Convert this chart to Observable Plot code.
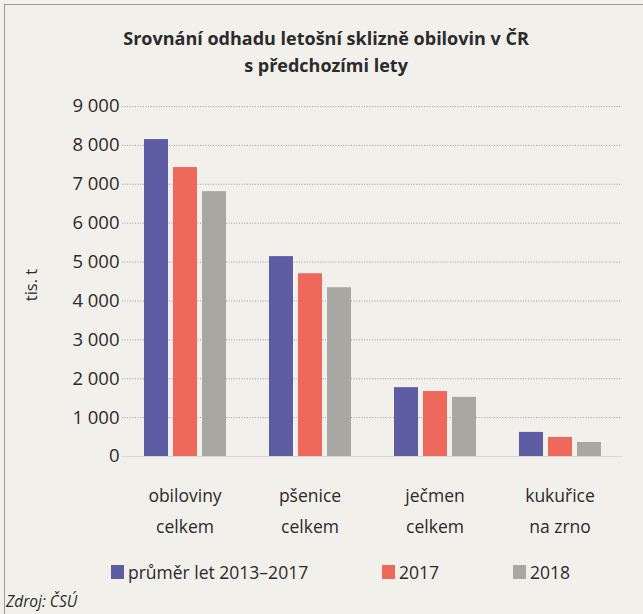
<!DOCTYPE html>
<html>
<head>
<meta charset="utf-8">
<script src="https://cdn.jsdelivr.net/npm/d3@7"></script>
<script src="https://cdn.jsdelivr.net/npm/@observablehq/plot@0.6"></script>
<style>
  html, body { margin: 0; padding: 0; background: #f2f0eb; }
  #wrap { position: relative; width: 643px; height: 614px; overflow: hidden; background: #f2f0eb;
          font-family: "Open Sans", sans-serif; color: #2a2a2a; }
  #frame { position: absolute; left: 4px; top: 4px; width: 650px; height: 700px;
           border-top: 1.5px solid #9a9a98; border-left: 1.5px solid #9a9a98; }
  #title { position: absolute; left: 0; width: 652px; top: 25px; text-align: center;
           font-weight: 700; font-size: 18px; line-height: 27px; color: #2b2b2b; }
  #chart { position: absolute; left: 0; top: 85px; }
  #ylabel { position: absolute; left: 30px; top: 285px; transform: translate(-50%, -50%) rotate(-90deg);
            font-size: 16.5px; white-space: nowrap; }
  .leg { position: absolute; top: 562px; display: flex; align-items: center; font-size: 17.5px; line-height: 20px; }
  .sw { width: 13px; height: 14px; margin-right: 4px; }
  #source { position: absolute; left: 6px; top: 590px; font-style: italic; font-size: 15.5px; }
</style>
</head>
<body>
<div id="wrap">
  <div id="frame"></div>
  <div id="title">Srovnání odhadu letošní sklizně obilovin v ČR<br>s předchozími lety</div>
  <div id="chart"></div>
  <div id="ylabel">tis. t</div>
  <div id="legend"></div>
  <div id="source">Zdroj: ČSÚ</div>
</div>
<script>
const categories = ["obiloviny\ncelkem", "pšenice\ncelkem", "ječmen\ncelkem", "kukuřice\nna zrno"];
const series = ["průměr let 2013–2017", "2017", "2018"];
const avg2013_2017 = [8150, 5140, 1770, 620];
const y2017 = [7430, 4700, 1670, 490];
const y2018 = [6810, 4340, 1520, 360];
const colors = ["#5e5da3", "#ef685c", "#a9a7a2"];
const yTicks = [0, 1000, 2000, 3000, 4000, 5000, 6000, 7000, 8000, 9000];

const valuesBySeries = [avg2013_2017, y2017, y2018];
const data = [];
categories.forEach((c, i) => {
  series.forEach((s, j) => data.push({cat: c, series: s, value: valuesBySeries[j][i]}));
});

const loc = d3.formatLocale({decimal: ",", thousands: " ", grouping: [3], currency: ["", ""]});
const fmt = loc.format(",d");

const chart = Plot.plot({
  width: 643,
  height: 460,
  marginTop: 21,
  marginBottom: 89,
  marginLeft: 120,
  marginRight: 20,
  style: {background: "transparent", fontFamily: "Open Sans, sans-serif", color: "#2a2a2a"},
  fx: {domain: categories, padding: 0},
  x: {domain: series, axis: null, paddingInner: 0.18, paddingOuter: 0.7},
  y: {domain: [0, 9000], axis: null},
  color: {domain: series, range: colors},
  marks: [
    Plot.gridY(yTicks.filter(d => d > 0), {stroke: "#666", strokeOpacity: 0.6, strokeDasharray: "1,1.6", strokeWidth: 1}),
    Plot.ruleY([0], {stroke: "#bbb", strokeOpacity: 0.5}),
    Plot.barY(data, {fx: "cat", x: "series", y: "value", fill: "series"}),
    Plot.axisY(yTicks, {anchor: "left", tickSize: 0, tickPadding: 3, tickFormat: fmt, label: null, fontSize: 18.5}),
    Plot.axisFx({anchor: "bottom", tickSize: 0, tickPadding: 24, label: null, fontSize: 17.5, lineHeight: 1.75})
  ]
});
document.getElementById("chart").appendChild(chart);

const legend = document.getElementById("legend");
const legX = [111, 382, 513];
series.forEach((s, j) => {
  const item = document.createElement("div");
  item.className = "leg";
  item.style.left = legX[j] + "px";
  const sw = document.createElement("span");
  sw.className = "sw";
  sw.style.background = colors[j];
  item.appendChild(sw);
  item.appendChild(document.createTextNode(s));
  legend.appendChild(item);
});
</script>
</body>
</html>
